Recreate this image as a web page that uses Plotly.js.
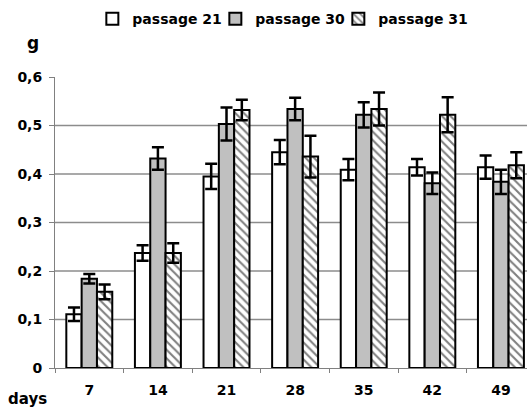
<!DOCTYPE html>
<html>
<head>
<meta charset="utf-8">
<script src="https://cdn.plot.ly/plotly-3.0.1.min.js"></script>
<style>
html,body{margin:0;padding:0;background:#fff;overflow:hidden;}
.legend .scrollbox, .legend [clip-path] {clip-path: none !important;}
</style>
</head>
<body>
<div id="chart" style="width:527px;height:408px;"></div>
<script>
var days = ['7', '14', '21', '28', '35', '42', '49'];
var seriesNames = ['passage 21', 'passage 30', 'passage 31'];
var p21 = [0.111, 0.237, 0.395, 0.445, 0.409, 0.414, 0.414];
var err21 = [0.014, 0.016, 0.026, 0.025, 0.022, 0.017, 0.024];
var p30 = [0.184, 0.432, 0.503, 0.534, 0.522, 0.381, 0.384];
var err30 = [0.010, 0.023, 0.034, 0.023, 0.026, 0.022, 0.025];
var p31 = [0.157, 0.237, 0.532, 0.436, 0.534, 0.522, 0.418];
var err31 = [0.015, 0.020, 0.021, 0.043, 0.034, 0.036, 0.027];
var yTickVals = [0, 0.1, 0.2, 0.3, 0.4, 0.5, 0.6];
var yTickText = ['0', '0,1', '0,2', '0,3', '0,4', '0,5', '0,6'];
var gridVals = [0.1, 0.2, 0.3, 0.4, 0.5];

var FONT = 'DejaVu Sans, Arial, sans-serif';

function errBar(arr) {
  return {type: 'data', array: arr, visible: true, color: '#000', thickness: 2.5, width: 6};
}

var traces = [
  {type: 'bar', name: seriesNames[0], x: days, y: p21, error_y: errBar(err21),
   marker: {color: '#ffffff', line: {color: '#000', width: 2}}},
  {type: 'bar', name: seriesNames[1], x: days, y: p30, error_y: errBar(err30),
   marker: {color: '#c0c0c0', line: {color: '#000', width: 2}}},
  {type: 'bar', name: seriesNames[2], x: days, y: p31, error_y: errBar(err31),
   marker: {color: '#ffffff', line: {color: '#000', width: 2},
            pattern: {shape: '\\', fgcolor: '#808080', bgcolor: '#ffffff', size: 6, solidity: 0.35}}}
];

var shapes = gridVals.map(function (v) {
  return {type: 'line', xref: 'paper', yref: 'y', x0: 0, x1: 1, y0: v, y1: v,
          line: {color: '#8c8c8c', width: 1.5}, layer: 'below'};
});

var layout = {
  width: 527, height: 408,
  margin: {l: 55, r: 0, t: 77, b: 40, pad: 0},
  paper_bgcolor: '#fff', plot_bgcolor: '#fff',
  font: {family: FONT, size: 14, color: '#000', weight: 'bold'},
  separators: ', ',
  barmode: 'group', bargap: 0.33, bargroupgap: 0,
  showlegend: true,
  legend: {orientation: 'h', x: 0.47, xanchor: 'center', y: 1.199, yanchor: 'middle',
           font: {family: FONT, size: 14, color: '#000', weight: 'bold'},
           itemwidth: 30, entrywidth: 78, entrywidthmode: 'pixels',
           tracegroupgap: 0, bgcolor: 'rgba(0,0,0,0)'},
  xaxis: {type: 'category', range: [-0.5, 6.38], tickson: 'boundaries',
          ticks: 'outside', ticklen: 4, tickcolor: '#808080', tickwidth: 1,
          showline: true, linecolor: '#808080', linewidth: 1, showgrid: false,
          ticklabelstandoff: 9, fixedrange: true,
          tickfont: {family: FONT, size: 14, color: '#000', weight: 'bold'}},
  yaxis: {range: [0, 0.6], tickvals: yTickVals, ticktext: yTickText,
          ticks: 'outside', ticklen: 5, tickcolor: '#808080', tickwidth: 1,
          showline: true, linecolor: '#808080', linewidth: 1, showgrid: false, zeroline: false,
          ticklabelstandoff: 4, fixedrange: true,
          tickfont: {family: FONT, size: 14, color: '#000', weight: 'bold'}},
  shapes: shapes,
  annotations: [
    {text: 'g', xref: 'paper', yref: 'paper', x: -0.0466, y: 1.1166, xanchor: 'center', yanchor: 'middle',
     showarrow: false, font: {family: FONT, size: 17, color: '#000', weight: 'bold'}},
    {text: 'days', xref: 'paper', yref: 'paper', x: -0.0593, y: -0.107, xanchor: 'center', yanchor: 'middle',
     showarrow: false, font: {family: FONT, size: 15, color: '#000', weight: 'bold'}}
  ]
};

Plotly.newPlot('chart', traces, layout, {displayModeBar: false, staticPlot: true});
</script>
</body>
</html>
